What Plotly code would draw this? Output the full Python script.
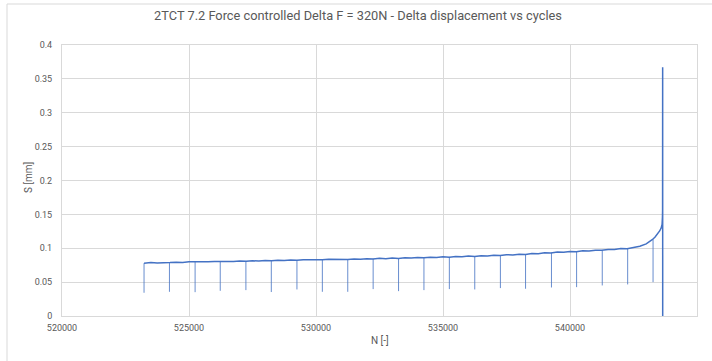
import plotly.graph_objects as go

# Displacement amplitude recorded every 250 cycles, plus the final run-up to failure
cycles = [
    523230, 523500, 523750, 524000, 524250, 524500, 524750, 525000, 525250, 525500,
    525750, 526000, 526250, 526500, 526750, 527000, 527250, 527500, 527750, 528000,
    528250, 528500, 528750, 529000, 529250, 529500, 529750, 530000, 530250, 530500,
    530750, 531000, 531250, 531500, 531750, 532000, 532250, 532500, 532750, 533000,
    533250, 533500, 533750, 534000, 534250, 534500, 534750, 535000, 535250, 535500,
    535750, 536000, 536250, 536500, 536750, 537000, 537250, 537500, 537750, 538000,
    538250, 538500, 538750, 539000, 539250, 539500, 539750, 540000, 540250, 540500,
    540750, 541000, 541250, 541500, 541750, 542000, 542250, 542500, 542750, 543000,
    543150, 543250, 543350, 543450, 543530, 543590, 543625, 543640, 543645, 543648,
    543650,
]
displacement = [
    0.0780, 0.0788, 0.0784, 0.0792, 0.0789, 0.0795, 0.0791, 0.0800, 0.0796, 0.0803,
    0.0799, 0.0806, 0.0802, 0.0809, 0.0805, 0.0812, 0.0808, 0.0816, 0.0811, 0.0820,
    0.0815, 0.0824, 0.0819, 0.0827, 0.0822, 0.0830, 0.0826, 0.0833, 0.0829, 0.0836,
    0.0832, 0.0839, 0.0835, 0.0843, 0.0838, 0.0846, 0.0842, 0.0851, 0.0846, 0.0855,
    0.0850, 0.0859, 0.0855, 0.0864, 0.0859, 0.0868, 0.0864, 0.0873, 0.0869, 0.0878,
    0.0874, 0.0884, 0.0880, 0.0890, 0.0886, 0.0897, 0.0893, 0.0905, 0.0901, 0.0913,
    0.0909, 0.0923, 0.0919, 0.0933, 0.0929, 0.0943, 0.0940, 0.0953, 0.0950, 0.0962,
    0.0959, 0.0972, 0.0969, 0.0982, 0.0980, 0.0995, 0.0994, 0.1012, 0.1030, 0.1065,
    0.1100, 0.1130, 0.1165, 0.1210, 0.1255, 0.1300, 0.1350, 0.1460, 0.1560, 0.3670,
    0.0000,
]

# Periodic unloading dips: cycle, displacement before the dip, and dip minimum
dip_cycles = [
    523230, 524230, 525240, 526230, 527240, 528240, 529250, 530250, 531250, 532250,
    533250, 534250, 535250, 536250, 537260, 538250, 539270, 540260, 541270, 542270,
    543270,
]
dip_top = [
    0.0780, 0.0791, 0.0800, 0.0805, 0.0812, 0.0820, 0.0826, 0.0833, 0.0839, 0.0846,
    0.0855, 0.0864, 0.0873, 0.0884, 0.0897, 0.0913, 0.0933, 0.0953, 0.0972, 0.0995,
    0.1130,
]
dip_min = [
    0.0343, 0.0357, 0.0352, 0.0372, 0.0382, 0.0354, 0.0392, 0.0357, 0.0357, 0.0397,
    0.0367, 0.0382, 0.0397, 0.0392, 0.0412, 0.0402, 0.0421, 0.0426, 0.0451, 0.0466,
    0.0500,
]

x_ticks = [520000, 525000, 530000, 535000, 540000, 545000]
y_ticks = [0, 0.05, 0.1, 0.15, 0.2, 0.25, 0.3, 0.35, 0.4]
y_tick_text = ["0", "0.05", "0.1", "0.15", "0.2", "0.25", "0.3", "0.35", "0.4"]

BLUE = "#4472C4"
GRID = "#d9d9d9"
TEXT = "#595959"
FONT = "Roboto"

fig = go.Figure()

# dips as thin vertical strokes
dx, dy = [], []
for c, t, m in zip(dip_cycles, dip_top, dip_min):
    dx += [c, c, None]
    dy += [t, m, None]
fig.add_trace(go.Scatter(x=dx, y=dy, mode="lines",
                         line=dict(color=BLUE, width=1), opacity=0.8,
                         hoverinfo="skip", showlegend=False))

fig.add_trace(go.Scatter(x=cycles, y=displacement, mode="lines",
                         line=dict(color=BLUE, width=1.5),
                         showlegend=False))

L, R, T, B = 62, 15, 45, 45
W, H = 712, 361
pw, ph = W - L - R, H - T - B

fig.update_layout(
    width=W, height=H,
    margin=dict(l=L, r=R, t=T, b=B),
    paper_bgcolor="white", plot_bgcolor="white",
    font=dict(family=FONT, color=TEXT, size=10),
    title=dict(text="2TCT 7.2 Force controlled Delta F = 320N - Delta displacement vs cycles",
               x=358 / W, xref="container", xanchor="center",
               y=1 - 16 / H, yref="container", yanchor="middle",
               font=dict(family=FONT, size=12.8, color=TEXT)),
    xaxis=dict(range=[520000, 545000], tickvals=x_ticks,
               ticktext=[str(v) for v in x_ticks],
               showgrid=True, gridcolor=GRID, gridwidth=1,
               showline=True, linecolor=GRID, mirror=True,
               zeroline=False, ticks="", ticklabelstandoff=3,
               tickfont=dict(size=9, color=TEXT)),
    yaxis=dict(range=[0, 0.4], tickvals=y_ticks, ticktext=y_tick_text,
               showgrid=True, gridcolor=GRID, gridwidth=1,
               showline=True, linecolor=GRID, mirror=True,
               zeroline=False, ticks="", ticklabelstandoff=7,
               tickfont=dict(size=9, color=TEXT)),
    shapes=[dict(type="rect", xref="paper", yref="paper",
                 x0=(7 - L) / pw, x1=1.5, y0=-0.5, y1=(H - B - 4) / ph,
                 line=dict(color=GRID, width=1), fillcolor="rgba(0,0,0,0)",
                 layer="below")],
    annotations=[
        dict(text="S [mm]", xref="paper", yref="paper",
             x=(28 - L) / pw, y=(H - B - 178) / ph, textangle=-90,
             showarrow=False, font=dict(size=10, color=TEXT),
             xanchor="center", yanchor="middle"),
        dict(text="N [-]", xref="paper", yref="paper",
             x=(380 - L) / pw, y=(H - B - 340) / ph,
             showarrow=False, font=dict(size=10, color=TEXT),
             xanchor="center", yanchor="middle"),
    ],
)

fig.write_html("out.html")
